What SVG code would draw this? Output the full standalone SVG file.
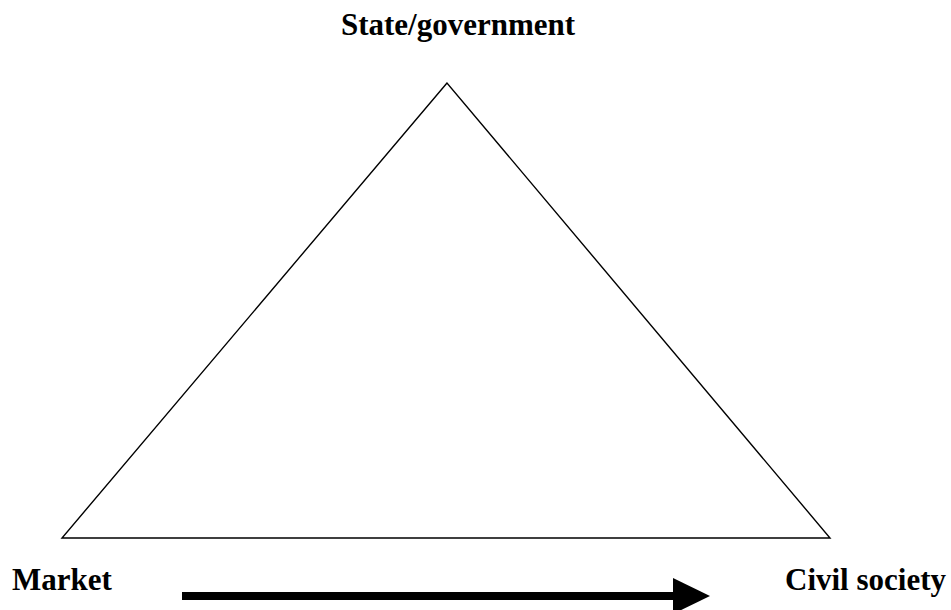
<svg xmlns="http://www.w3.org/2000/svg" width="951" height="610" viewBox="0 0 951 610">
<style>
.lbl{font-family:"Liberation Serif","Times New Roman",serif;font-weight:bold;font-size:31px;fill:#000}
</style>
<rect width="951" height="610" fill="#fff"/>
<g id="triangle"><polygon points="447,83 62,538 830,538" fill="none" stroke="#000" stroke-width="1.4"/></g>
<g id="state"><text class="lbl" x="458" y="35" text-anchor="middle">State/government</text></g>
<g id="market"><text class="lbl" x="12" y="590">Market</text></g>
<g id="civil"><text class="lbl" x="785" y="590">Civil society</text></g>
<g id="connectors">
<rect x="182" y="592" width="492" height="8" fill="#000"/>
<polygon points="673,578 710,596 673,614" fill="#000"/>
</g>
</svg>
